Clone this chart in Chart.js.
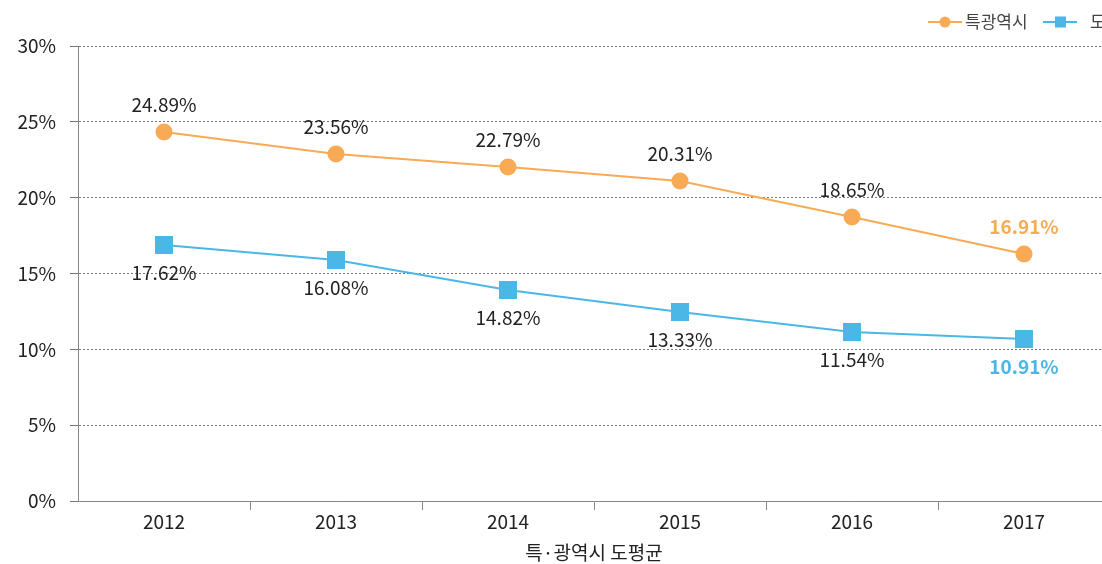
<!DOCTYPE html>
<html>
<head>
<meta charset="utf-8">
<script src="https://cdn.jsdelivr.net/npm/chart.js@4/dist/chart.umd.min.js"></script>
<style>
  html, body { margin: 0; padding: 0; background: #fff; overflow: hidden; }
  #wrap { width: 1102px; height: 564px; overflow: hidden; }
</style>
</head>
<body>
<div id="wrap"><canvas id="chart" width="1160" height="564"></canvas></div>
<script>
// values as plotted, and the labels printed next to each point
const years = ["2012", "2013", "2014", "2015", "2016", "2017"];
const metroValues = [24.33, 22.88, 22.02, 21.1, 18.72, 16.28];
const provValues = [16.88, 15.89, 13.91, 12.46, 11.14, 10.68];
const metroLabels = ["24.89%", "23.56%", "22.79%", "20.31%", "18.65%", "16.91%"];
const provLabels = ["17.62%", "16.08%", "14.82%", "13.33%", "11.54%", "10.91%"];
const seriesNames = ["특광역시", "도평균"];
const xTitle = "특·광역시 도평균";

const ORANGE = "#F8AA55";
const BLUE = "#4BB7E7";
const FONT = "'Noto Sans CJK KR', 'Noto Sans', sans-serif";

const pointLabels = {
  id: "pointLabels",
  afterDatasetsDraw(chart) {
    const ctx = chart.ctx;
    const sets = [
      { labels: metroLabels, color: ORANGE, dy: -27 },
      { labels: provLabels, color: BLUE, dy: 28 },
    ];
    ctx.save();
    ctx.textAlign = "center";
    ctx.textBaseline = "middle";
    sets.forEach((s, di) => {
      chart.getDatasetMeta(di).data.forEach((pt, i) => {
        const last = i === s.labels.length - 1;
        ctx.font = (last ? "bold " : "") + "19px " + FONT;
        ctx.fillStyle = last ? s.color : "#222";
        ctx.fillText(s.labels[i], pt.x, pt.y + s.dy);
      });
    });
    ctx.restore();
  },
};

const lineLegend = {
  id: "lineLegend",
  afterDraw(chart) {
    const ctx = chart.ctx;
    const y = 22;
    const items = [
      { x: 928, color: ORANGE, style: "circle", text: seriesNames[0] },
      { x: 1043, color: BLUE, style: "rect", text: seriesNames[1] },
    ];
    ctx.save();
    ctx.font = "17px " + FONT;
    ctx.textBaseline = "middle";
    items.forEach((it) => {
      ctx.strokeStyle = it.color;
      ctx.fillStyle = it.color;
      ctx.lineWidth = 2;
      ctx.beginPath();
      ctx.moveTo(it.x, y);
      ctx.lineTo(it.x + 34, y);
      ctx.stroke();
      if (it.style === "circle") {
        ctx.beginPath();
        ctx.arc(it.x + 17, y, 5.5, 0, Math.PI * 2);
        ctx.fill();
      } else {
        ctx.fillRect(it.x + 12, y - 5.5, 11, 11);
      }
      ctx.fillStyle = "#444";
      ctx.fillText(it.text, it.x + (it.style === "rect" ? 47 : 37), y);
    });
    ctx.restore();
  },
};

new Chart(document.getElementById("chart"), {
  type: "line",
  data: {
    labels: years,
    datasets: [
      {
        label: seriesNames[0],
        data: metroValues,
        borderColor: ORANGE,
        backgroundColor: ORANGE,
        borderWidth: 2,
        pointStyle: "circle",
        pointRadius: 7.5,
        pointHoverRadius: 7.5,
        tension: 0,
      },
      {
        label: seriesNames[1],
        data: provValues,
        borderColor: BLUE,
        backgroundColor: BLUE,
        borderWidth: 2,
        pointStyle: "rect",
        pointRadius: 11.3,
        pointHoverRadius: 11.3,
        tension: 0,
      },
    ],
  },
  options: {
    responsive: false,
    animation: false,
    devicePixelRatio: 1,
    layout: { padding: { top: 46, right: 50, left: 0, bottom: 0 } },
    plugins: {
      legend: { display: false },
      tooltip: { enabled: false },
    },
    scales: {
      x: {
        offset: true,
        afterFit(scale) { scale.height = 63; },
        grid: {
          offset: true,
          drawOnChartArea: false,
          drawTicks: true,
          tickLength: 9,
          color: "#888",
          tickColor: (c) => (c.index === 0 ? "rgba(0,0,0,0)" : "#888"),
        },
        border: { color: "#888", width: 1 },
        ticks: {
          color: "#222",
          font: { family: FONT, size: 19 },
          padding: 0,
        },
        title: {
          display: true,
          text: xTitle,
          color: "#222",
          font: { family: FONT, size: 19 },
          padding: { top: 0, bottom: 0 },
        },
      },
      y: {
        min: 0,
        max: 30,
        afterFit(scale) { scale.width = 78; },
        ticks: {
          stepSize: 5,
          color: "#222",
          font: { family: FONT, size: 19 },
          padding: 14,
          callback: (v) => v + "%",
        },
        grid: {
          color: "#777",
          tickLength: 8,
          tickBorderDash: [],
          tickColor: "#777",
        },
        border: { color: "#888", width: 1, dash: [2, 2] },
      },
    },
  },
  plugins: [pointLabels, lineLegend],
});
</script>
</body>
</html>
